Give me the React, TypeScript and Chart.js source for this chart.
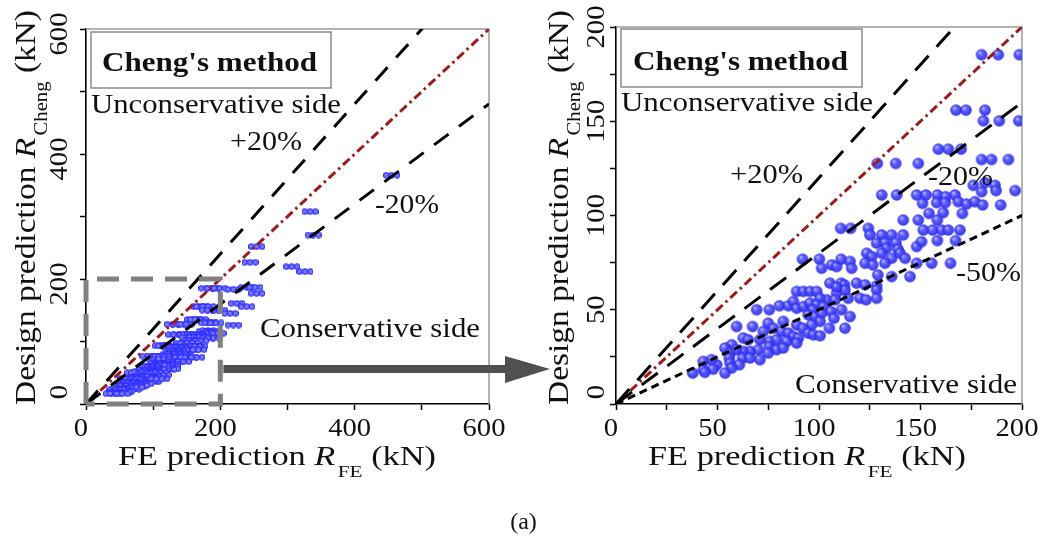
import React, { useEffect, useRef } from 'react';
import { Chart, registerables } from 'chart.js';

Chart.register(...registerables);

const SERIF = '"Liberation Serif", "Times New Roman", Times, serif';

// FE prediction R_FE (kN)
const feValues = [
  180.1, 188.3, 198.7, 167.5, 172.4, 181.8, 181.0, 188.8, 198.4, 158.8,
  163.7, 170.0, 180.1, 185.0, 193.3, 128.7, 137.8, 148.9, 176.0, 181.8,
  186.7, 180.1, 187.2, 196.6, 130.9, 138.3, 148.1, 152.7, 158.3, 162.4,
  167.0, 151.0, 158.0, 162.2, 168.6, 172.7, 176.8, 180.6, 189.5, 154.2,
  161.2, 170.6, 141.5, 148.9, 158.3, 151.4, 156.0, 160.4, 163.7, 169.4,
  110.7, 115.6, 124.3, 125.1, 130.9, 135.8, 141.5, 148.1, 150.5, 158.3,
  167.3, 128.4, 132.5, 137.9, 133.3, 138.9, 123.5, 126.0, 130.9, 135.8,
  139.9, 142.4, 148.1, 155.5, 164.8, 122.7, 126.5, 132.5, 91.9, 100.2,
  101.3, 106.3, 108.7, 110.9, 115.3, 116.1, 129.0, 135.8, 144.8, 105.4,
  110.9, 112.5, 118.5, 122.7, 128.4, 128.4, 128.4, 120.2, 123.2, 114.4,
  108.7, 112.8, 108.7, 89.0, 92.3, 95.6, 98.9, 103.8, 100.5, 107.9,
  69.3, 75.5, 80.5, 84.9, 87.4, 89.0, 92.3, 95.6, 98.9, 102.1,
  96.9, 94.7, 98.0, 101.3, 105.9, 111.1, 107.4, 115.3, 100.5, 96.4,
  89.0, 92.0, 82.4, 75.0, 77.5, 81.6, 84.9, 87.4, 89.8, 94.7,
  97.2, 100.5, 105.1, 112.8, 59.4, 67.3, 72.6, 62.7, 65.1, 70.9,
  75.8, 79.1, 84.1, 89.0, 75.5, 79.1, 82.4, 70.1, 66.0, 62.7,
  57.0, 53.7, 56.2, 59.4, 62.4, 66.0, 70.9, 75.0, 55.8, 56.2,
  60.8, 57.0, 49.6, 47.1, 43.0, 47.9, 43.0, 37.8, 43.8, 53.7,
  219.3, 239.2, 251.6, 254.0, 224.4, 239.2, 214.4, 219.3, 244.2, 254.1,
  306.2, 326.0, 333.5, 338.4, 455.0,
];

// Design prediction R_Cheng (kN)
const chengValues = [
  185.3, 185.3, 185.3, 155.9, 155.9, 155.9, 150.2, 150.2, 150.2, 135.2,
  135.2, 135.2, 129.7, 129.7, 129.7, 127.6, 127.6, 127.6, 116.0, 117.4,
  116.0, 112.6, 113.2, 113.2, 110.9, 110.9, 110.9, 110.9, 110.9, 110.0,
  110.9, 106.4, 106.8, 106.8, 107.3, 106.1, 107.3, 105.6, 105.6, 101.1,
  101.5, 101.1, 97.6, 97.6, 97.6, 92.3, 92.3, 92.3, 92.3, 92.3,
  93.2, 93.2, 93.2, 89.7, 89.7, 89.7, 89.7, 83.5, 86.1, 86.7,
  86.7, 85.3, 85.6, 85.6, 82.6, 82.1, 80.0, 78.2, 80.0, 77.3,
  80.0, 77.3, 74.7, 74.7, 74.7, 74.7, 73.8, 74.7, 76.8, 76.8,
  72.0, 73.8, 72.9, 76.8, 75.6, 72.0, 68.5, 67.6, 67.6, 64.1,
  64.1, 63.2, 64.1, 63.2, 62.7, 60.5, 56.1, 56.1, 55.3, 56.1,
  58.8, 60.5, 62.1, 59.7, 59.7, 59.7, 59.7, 55.3, 56.1, 55.3,
  50.0, 50.0, 52.1, 52.1, 54.4, 50.8, 51.7, 53.5, 52.6, 51.7,
  50.0, 47.3, 46.4, 48.2, 49.1, 50.0, 45.5, 46.4, 43.8, 42.0,
  42.0, 40.2, 43.8, 42.9, 40.2, 38.5, 37.6, 35.8, 35.0, 37.6,
  36.7, 36.2, 40.2, 40.2, 41.1, 41.1, 38.5, 35.0, 34.1, 34.1,
  33.2, 34.1, 33.2, 32.3, 30.5, 28.8, 29.7, 28.8, 27.9, 27.9,
  31.4, 29.7, 27.0, 28.8, 24.4, 24.4, 23.5, 27.0, 24.4, 21.7,
  20.8, 19.1, 20.8, 23.5, 22.6, 18.5, 18.2, 16.4, 16.8, 16.4,
  183.5, 186.7, 186.7, 177.0, 161.0, 155.7, 145.0, 126.4, 226.7, 251.7,
  219.7, 211.7, 307.7, 270.4, 366.0,
];

// Reference lines (end points)
const refX = [0, 600];
const equalY = [0, 600];
const plus20Y = [0, 720];
const minus20Y = [0, 480];
const minus50Y = [0, 300];

// Axis tick labels
const leftTickLabels = [0, 200, 400, 600];
const rightTickLabels = [0, 50, 100, 150, 200];

const xTitle = [
  { t: 'FE prediction ' },
  { t: 'R', italic: true },
  { t: 'FE', sub: true },
  { t: ' (kN)' },
];
const yTitle = [
  { t: 'Design prediction ' },
  { t: 'R', italic: true },
  { t: 'Cheng', sub: true },
  { t: ' (kN)' },
];

type Seg = { t: string; italic?: boolean; sub?: boolean };

function fitText(ctx: CanvasRenderingContext2D, text: string, x: number, y: number, size: number, width: number, bold = false) {
  ctx.save();
  ctx.font = `${bold ? 'bold ' : ''}${size}px ${SERIF}`;
  const w = ctx.measureText(text).width;
  ctx.translate(x, y);
  ctx.scale(width / w, 1);
  ctx.textAlign = 'left';
  ctx.textBaseline = 'alphabetic';
  ctx.fillStyle = '#111';
  ctx.fillText(text, 0, 0);
  ctx.restore();
}

function tickText(ctx: CanvasRenderingContext2D, text: string, x: number, y: number, rot: number) {
  ctx.save();
  ctx.font = `26px ${SERIF}`;
  ctx.translate(x, y);
  ctx.rotate(rot);
  ctx.scale(1.1, 1);
  ctx.textAlign = 'center';
  ctx.textBaseline = 'alphabetic';
  ctx.fillStyle = '#111';
  ctx.fillText(text, 0, 0);
  ctx.restore();
}

function richText(ctx: CanvasRenderingContext2D, segs: Seg[], x: number, y: number, size: number, length: number, rot: number) {
  const subSize = size * 0.62;
  const fontOf = (s: Seg) => `${s.italic ? 'italic ' : ''}${s.sub ? subSize : size}px ${SERIF}`;
  const widths = segs.map((s) => {
    ctx.font = fontOf(s);
    return ctx.measureText(s.t).width + (s.sub ? 2 : 0);
  });
  const total = widths.reduce((a, b) => a + b, 0);
  ctx.save();
  ctx.translate(x, y);
  ctx.rotate(rot);
  ctx.scale(length / total, 1);
  ctx.textAlign = 'left';
  ctx.textBaseline = 'alphabetic';
  ctx.fillStyle = '#111';
  let cx = 0;
  segs.forEach((s, i) => {
    ctx.font = fontOf(s);
    ctx.fillText(s.t, cx + (s.sub ? 2 : 0), s.sub ? size * 0.42 : 0);
    cx += widths[i];
  });
  ctx.restore();
}

function makeSphere(r: number) {
  const c = document.createElement('canvas');
  const s = Math.ceil(r * 2) + 2;
  c.width = s;
  c.height = s;
  const g = c.getContext('2d')!;
  const cx = s / 2;
  const cy = s / 2;
  const grad = g.createRadialGradient(cx - r * 0.35, cy - r * 0.4, r * 0.05, cx, cy, r);
  grad.addColorStop(0, '#b4b4ff');
  grad.addColorStop(0.4, '#5050ff');
  grad.addColorStop(1, '#2626e6');
  g.globalAlpha = 0.92;
  g.fillStyle = grad;
  g.beginPath();
  g.arc(cx, cy, r, 0, Math.PI * 2);
  g.fill();
  return c;
}

function makeTriplet() {
  const c = document.createElement('canvas');
  c.width = 17;
  c.height = 7;
  const g = c.getContext('2d')!;
  for (let i = 0; i < 3; i++) {
    const cx = 3 + i * 5.5;
    g.beginPath();
    g.arc(cx, 3.5, 2.6, 0, Math.PI * 2);
    g.fillStyle = '#7a7aff';
    g.fill();
    g.lineWidth = 1.1;
    g.strokeStyle = '#2e2eff';
    g.stroke();
  }
  return c;
}

function linePts(ys: number[]) {
  return refX.map((x, i) => ({ x, y: ys[i] }));
}

type Ann = { t: string; dx: number; y: number; w: number; bold?: boolean };

function buildConfig(o: {
  max: number;
  step: number;
  pad: { top: number; right: number };
  yAxisW: number;
  style: HTMLCanvasElement;
  radius: number;
  withMinus50: boolean;
  dashLong: number[];
  labels: number[];
  yTickBase: number;
  yTickShift: number;
  yTitleBase: number;
  box: { dx: number; y: number; w: number; h: number };
  anns: Ann[];
  extra?: (chart: any) => void;
}) {
  const points = feValues.map((x, i) => ({ x, y: chengValues[i] }));
  const datasets: any[] = [
    { data: linePts(plus20Y), showLine: true, borderColor: '#000', borderWidth: 3, borderDash: o.dashLong, pointRadius: 0, fill: false },
    { data: linePts(minus20Y), showLine: true, borderColor: '#000', borderWidth: 3, borderDash: o.dashLong, pointRadius: 0, fill: false },
    { data: linePts(equalY), showLine: true, borderColor: '#9c1a1a', borderWidth: 3, borderDash: [9, 4, 2.5, 4], pointRadius: 0, fill: false },
  ];
  if (o.withMinus50) {
    datasets.push({ data: linePts(minus50Y), showLine: true, borderColor: '#000', borderWidth: 3, borderDash: [8, 5], pointRadius: 0, fill: false });
  }
  datasets.push({ data: points, showLine: false, pointStyle: o.style, pointRadius: o.radius, pointHoverRadius: o.radius });

  const decor = {
    id: 'decor',
    beforeDatasetsDraw(chart: any) {
      const { ctx, chartArea: a } = chart;
      ctx.save();
      ctx.strokeStyle = '#9a9a9a';
      ctx.lineWidth = 1.5;
      ctx.beginPath();
      ctx.moveTo(a.left, a.top);
      ctx.lineTo(a.right, a.top);
      ctx.lineTo(a.right, a.bottom);
      ctx.stroke();
      ctx.restore();
    },
    afterDatasetsDraw(chart: any) {
      const { ctx, chartArea: a } = chart;
      ctx.save();
      ctx.fillStyle = '#fff';
      ctx.strokeStyle = '#8a8a8a';
      ctx.lineWidth = 1.5;
      ctx.fillRect(a.left + o.box.dx, o.box.y, o.box.w, o.box.h);
      ctx.strokeRect(a.left + o.box.dx, o.box.y, o.box.w, o.box.h);
      ctx.restore();
      o.anns.forEach((n) => fitText(ctx, n.t, a.left + n.dx, n.y, 28, n.w, n.bold));
    },
    afterDraw(chart: any) {
      const { ctx, chartArea: a, scales } = chart;
      const xs = scales.x;
      const ys = scales.y;
      o.labels.forEach((v) => {
        tickText(ctx, String(v), xs.getPixelForValue(v) - 5, 436, 0);
        tickText(ctx, String(v), a.left - o.yTickBase, ys.getPixelForValue(v) + (v === 0 ? -12 : o.yTickShift), -Math.PI / 2);
      });
      richText(ctx, xTitle, a.left + 32, 465, 28, 318, 0);
      richText(ctx, yTitle, a.left - o.yTitleBase, 405, 29, 395, -Math.PI / 2);
      if (o.extra) o.extra(chart);
    },
  };

  return {
    type: 'scatter' as const,
    data: { datasets },
    options: {
      animation: false as const,
      responsive: false,
      events: [] as any[],
      layout: { padding: { left: 0, top: o.pad.top, right: o.pad.right, bottom: 0 } },
      plugins: { legend: { display: false }, tooltip: { enabled: false } },
      scales: {
        x: {
          type: 'linear' as const,
          min: 0,
          max: o.max,
          ticks: { display: false, stepSize: o.step },
          grid: { display: true, drawOnChartArea: false, drawTicks: true, tickLength: 6, tickWidth: 1.5, tickColor: '#000' },
          border: { display: true, color: '#000', width: 1.6 },
          afterFit: (s: any) => { s.height = 138; },
        },
        y: {
          type: 'linear' as const,
          min: 0,
          max: o.max,
          ticks: { display: false, stepSize: o.step },
          grid: { display: true, drawOnChartArea: false, drawTicks: true, tickLength: 6, tickWidth: 1.5, tickColor: '#000' },
          border: { display: true, color: '#000', width: 1.6 },
          afterFit: (s: any) => { s.width = o.yAxisW; },
        },
      },
    },
    plugins: [decor],
  };
}

export default function App() {
  const leftRef = useRef<HTMLCanvasElement>(null);
  const rightRef = useRef<HTMLCanvasElement>(null);

  useEffect(() => {
    const sphere = makeSphere(5.8);
    const triplet = makeTriplet();

    const zoomAndArrow = (chart: any) => {
      const { ctx, scales } = chart;
      const x0 = scales.x.getPixelForValue(0);
      const x1 = scales.x.getPixelForValue(200);
      const y0 = scales.y.getPixelForValue(0);
      const y1 = scales.y.getPixelForValue(200);
      ctx.save();
      ctx.strokeStyle = '#808080';
      ctx.lineWidth = 5;
      ctx.setLineDash([22, 12]);
      ctx.beginPath();
      ctx.moveTo(x0, y0);
      ctx.lineTo(x0, y1);
      ctx.lineTo(x1, y1);
      ctx.lineTo(x1, y0);
      ctx.lineTo(x0, y0);
      ctx.stroke();
      ctx.setLineDash([]);
      ctx.fillStyle = '#505050';
      ctx.fillRect(x1 + 3, 365, 507 - x1 - 3, 8);
      ctx.beginPath();
      ctx.moveTo(505, 356);
      ctx.lineTo(550, 369);
      ctx.lineTo(505, 383);
      ctx.closePath();
      ctx.fill();
      ctx.restore();
    };

    const left = new Chart(
      leftRef.current!,
      buildConfig({
        max: 600,
        step: 100,
        pad: { top: 29, right: 71 },
        yAxisW: 86,
        style: triplet,
        radius: 3,
        withMinus50: false,
        dashLong: [18, 13],
        labels: leftTickLabels,
        yTickBase: 19,
        yTickShift: 5,
        yTitleBase: 51,
        box: { dx: 5, y: 32, w: 240, h: 56 },
        anns: [
          { t: "Cheng's method", dx: 16, y: 71, w: 215, bold: true },
          { t: 'Unconservative side', dx: 5, y: 113, w: 250 },
          { t: '+20%', dx: 144, y: 150, w: 72 },
          { t: '-20%', dx: 289, y: 213, w: 64 },
          { t: 'Conservative side', dx: 174, y: 337, w: 220 },
        ],
        extra: zoomAndArrow,
      }) as any
    );

    const right = new Chart(
      rightRef.current!,
      buildConfig({
        max: 200,
        step: 25,
        pad: { top: 27, right: 25 },
        yAxisW: 86,
        style: sphere,
        radius: 5.8,
        withMinus50: true,
        dashLong: [20, 12],
        labels: rightTickLabels,
        yTickBase: 12,
        yTickShift: 0,
        yTitleBase: 48,
        box: { dx: 5, y: 29, w: 241, h: 58 },
        anns: [
          { t: "Cheng's method", dx: 17, y: 70, w: 215, bold: true },
          { t: 'Unconservative side', dx: 5, y: 111, w: 252 },
          { t: '+20%', dx: 114, y: 183, w: 73 },
          { t: '-20%', dx: 312, y: 185, w: 65 },
          { t: '-50%', dx: 340, y: 281, w: 65 },
          { t: 'Conservative side', dx: 179, y: 393, w: 222 },
        ],
      }) as any
    );

    return () => {
      left.destroy();
      right.destroy();
    };
  }, []);

  return (
    <div style={{ position: 'fixed', left: 0, top: 0, width: 1047, height: 542, background: '#fff', overflow: 'hidden' }}>
      <canvas ref={leftRef} width={560} height={542} style={{ position: 'absolute', left: 0, top: 0 }} />
      <canvas ref={rightRef} width={517} height={542} style={{ position: 'absolute', left: 530, top: 0 }} />
      <div
        style={{
          position: 'absolute',
          left: 0,
          top: 509,
          width: 1047,
          textAlign: 'center',
          fontFamily: SERIF,
          fontSize: 24,
          lineHeight: '24px',
          color: '#111',
        }}
      >
        (a)
      </div>
    </div>
  );
}
